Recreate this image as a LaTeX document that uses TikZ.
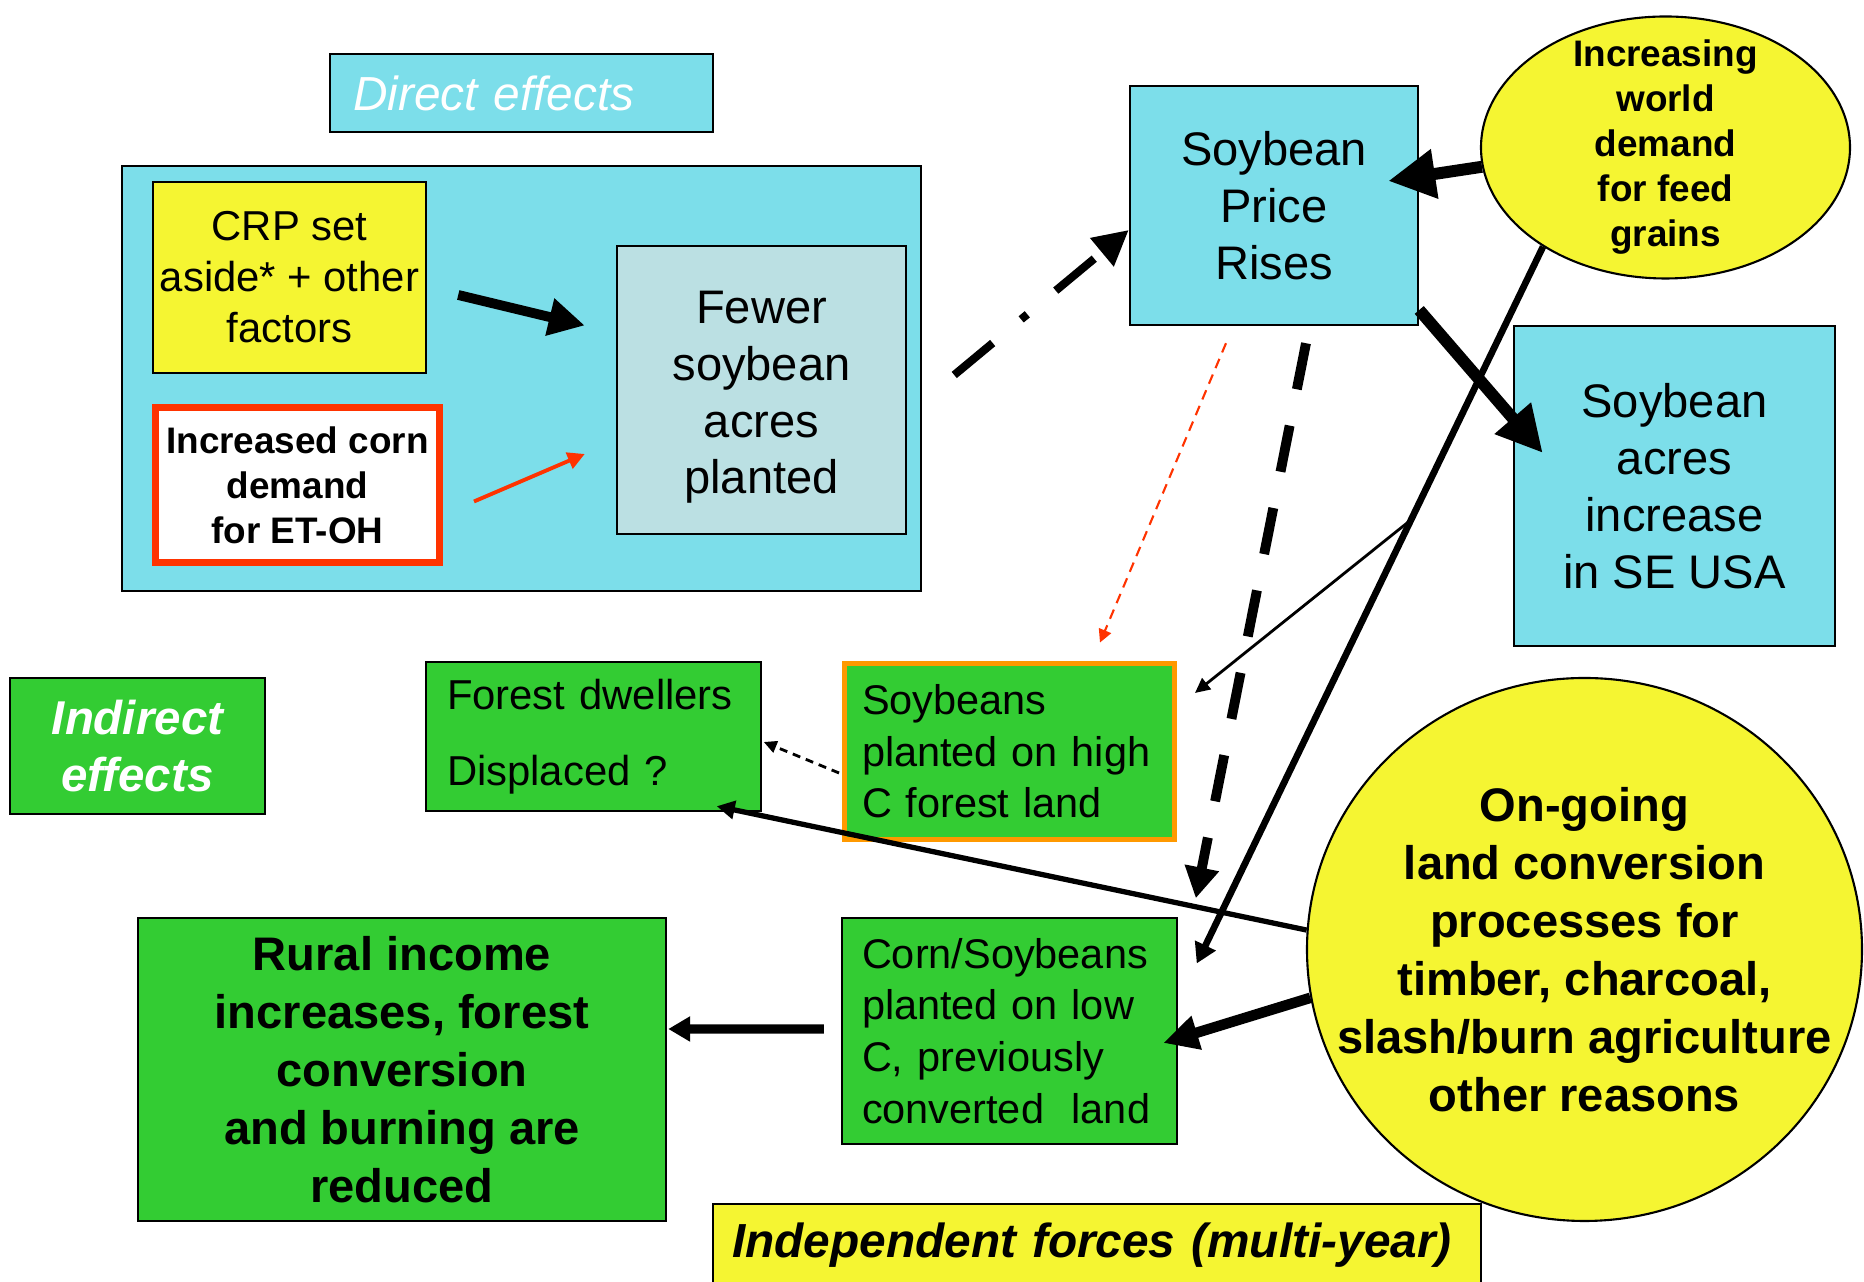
\documentclass[tikz,border=0pt]{standalone}
\usepackage{fontspec}
\setmainfont{Liberation Sans}
\usepackage{xcolor}
\usetikzlibrary{positioning,calc,arrows.meta,shapes.geometric}

\definecolor{boxcyan}{RGB}{124,222,234}
\definecolor{boxgrey}{RGB}{187,224,227}
\definecolor{boxyellow}{RGB}{245,245,50}
\definecolor{boxgreen}{RGB}{51,204,51}
\definecolor{boxorange}{RGB}{255,153,0}
\definecolor{boxred}{RGB}{255,51,0}

\begin{document}
\begin{tikzpicture}[
    box/.style={draw=black, line width=0.7pt, inner sep=0.05cm, align=center},
    bigtext/.style={font=\fontsize{13.4}{16.2}\selectfont},
    boldtext/.style={font=\fontsize{13.4}{16.5}\selectfont\bfseries},
    midtext/.style={font=\fontsize{11.9}{14.5}\selectfont},
    smalltext/.style={font=\fontsize{10.5}{12.8}\selectfont\bfseries},
    heavyline/.style={black, line width=2.8pt},
    fatline/.style={black, line width=3.4pt},
    midline/.style={black, line width=1.9pt},
    fineline/.style={black, line width=0.8pt},
    redline/.style={boxred, line width=1.1pt},
]
\useasboundingbox (0,0) rectangle (18.64,12.82);

% =====================================================================
% DIRECT EFFECTS: panel with CRP, corn demand and fewer acres
% =====================================================================
\node[box, fill=boxcyan, text=white, minimum width=3.83cm, minimum height=0.78cm,
    text width=3.37cm, inner xsep=0.23cm, align=left,
    font=\fontsize{13.6}{15}\selectfont\itshape] (direct) at (5.215,11.89) {Direct effects};

\draw[fill=boxcyan, line width=0.7pt] (1.22,6.91) rectangle (9.21,11.16);

\node[box, fill=boxyellow, minimum width=2.73cm, minimum height=1.91cm, midtext]
    (crp) at (2.895,10.045) {CRP set\\aside* + other\\factors};
\node[box, draw=boxred, line width=2pt, fill=white, minimum width=2.84cm,
    minimum height=1.55cm, smalltext] (corn) at (2.975,7.97) {Increased corn\\demand\\for ET-OH};
\node[box, fill=boxgrey, minimum width=2.89cm, minimum height=2.88cm, bigtext]
    (fewer) at (7.615,8.92) {\\[-0.1cm]Fewer\\soybean\\acres\\planted};

% =====================================================================
% Price box, world demand and SE USA
% =====================================================================
\node[box, fill=boxcyan, minimum width=2.88cm, minimum height=2.39cm, bigtext]
    (price) at (12.74,10.765) {Soybean\\Price\\Rises};
\node[box, ellipse, line width=0.6pt, fill=boxyellow, minimum width=3.69cm, minimum height=2.62cm,
    inner xsep=0pt, inner ysep=-0.3cm, smalltext] (world) at (16.655,11.345)
    {Increasing\\world\\demand\\for feed\\grains};
\node[box, fill=boxcyan, minimum width=3.21cm, minimum height=3.2cm, bigtext]
    (seusa) at (16.745,7.96) {Soybean\\acres\\increase\\in SE USA};

% =====================================================================
% INDIRECT EFFECTS
% =====================================================================
\node[box, fill=boxgreen, text=white, minimum width=2.55cm, minimum height=1.36cm,
    font=\fontsize{13.5}{16.2}\selectfont\bfseries\itshape] (indirect) at (1.375,5.36) {Indirect\\effects};
\node[box, fill=boxgreen, minimum width=3.35cm, minimum height=1.49cm, text width=2.93cm,
    inner xsep=0.21cm, align=left, midtext] (forest) at (5.935,5.455)
    {Forest dwellers\\[0.25cm]Displaced ?};
\node[box, draw=boxorange, line width=1.4pt, fill=boxgreen, minimum width=3.3cm,
    minimum height=1.76cm, text width=2.95cm, inner xsep=0.175cm, align=left,
    font=\fontsize{11.8}{14.6}\selectfont] (high) at (10.095,5.305)
    {Soybeans\\planted on high\\C forest land};
\node[box, fill=boxgreen, minimum width=3.35cm, minimum height=2.26cm, text width=2.95cm,
    inner xsep=0.2cm, align=left, font=\fontsize{11.8}{14.7}\selectfont] (low) at (10.095,2.51)
    {Corn/Soybeans\\planted on low\\C, previously\\converted\ \ land};
\node[box, fill=boxgreen, minimum width=5.28cm, minimum height=3.03cm, boldtext]
    (rural) at (4.02,2.125) {Rural income\\increases, forest\\conversion\\and burning are\\reduced};

% =====================================================================
% Independent forces
% =====================================================================
\node[box, ellipse, line width=0.6pt, fill=boxyellow, minimum width=5.55cm, minimum height=5.43cm,
    inner xsep=-0.7cm, inner ysep=-0.3cm, boldtext] (ongoing) at (15.845,3.325)
    {On-going\\land conversion\\processes for\\timber, charcoal,\\slash/burn agriculture\\other reasons};
\node[box, fill=boxyellow, minimum width=7.68cm, minimum height=0.82cm, text width=7.3cm,
    inner xsep=0.19cm, align=left, font=\fontsize{13.6}{15}\selectfont\bfseries\itshape]
    (indep) at (10.97,0.37) {Independent forces (multi-year)};

% =====================================================================
% Arrows
% =====================================================================
\draw[heavyline, -{Triangle[length=0.36cm,width=0.36cm]}]
    ($(crp.east)+(0.31,-0.175)$) -- ($(fewer.west)+(-0.31,0.645)$);
\draw[redline, -{Triangle[length=0.17cm,width=0.17cm]}]
    ($(corn.east)+(0.31,-0.165)$) -- ($(fewer.west)+(-0.31,-0.64)$);
\draw[black, line width=2.3pt, dash pattern=on 0.5cm off 0.37cm on 0.08cm off 0.37cm,
    -{Triangle[length=0.35cm,width=0.35cm]}]
    ($(fewer.east)+(0.47,0.15)$) -- ($(price.west)+(0,-0.245)$);
\draw[fatline, -{Triangle[length=0.47cm,width=0.47cm]}]
    (world.186) -- ($(price.east)+(-0.31,0.245)$);
\draw[fatline, -{Triangle[length=0.46cm,width=0.45cm]}]
    ($(price.east)+(0,-1.045)$) -- ($(seusa.west)+(0.3,0.33)$);

% price rises feeding the indirect effects
\draw[boxred, line width=0.6pt, dash pattern=on 0.1cm off 0.07cm,
    -{Triangle[length=0.13cm,width=0.13cm]}]
    ($(price.south)+(-0.48,-0.17)$) -- ($(high.north)+(0.905,0.185)$);
\draw[heavyline, dash pattern=on 0.47cm off 0.37cm, -{Triangle[length=0.31cm,width=0.33cm]}]
    ($(price.south)+(0.32,-0.17)$) -- ($(low.north east)+(0.176,0.185)$);

% world demand line with its branch
\coordinate (worldOut) at (world.219);
\coordinate (lowIn) at ($(low.east)+(0.185,0.675)$);
\draw[midline, -{Triangle[length=0.2cm,width=0.22cm]}] (worldOut) -- (lowIn);
\draw[fineline, -{Triangle[length=0.15cm,width=0.14cm]}]
    ($(worldOut)!0.381!(lowIn)$) -- ($(high.east)+(0.18,0.585)$);

\draw[fineline, dash pattern=on 0.08cm off 0.06cm, -{Triangle[length=0.13cm,width=0.12cm]}]
    ($(high.west)+(-0.03,-0.215)$) -- ($(forest.east)+(0.015,-0.055)$);
\draw[black, line width=1.5pt, -{Triangle[length=0.18cm,width=0.18cm]}]
    (ongoing.176) -- ($(forest.south east)+(-0.455,0.06)$);
\draw[black, line width=3pt, -{Triangle[length=0.35cm,width=0.33cm]}]
    (ongoing.190) -- ($(low.east)+(-0.15,-0.12)$);
\draw[black, line width=2.6pt, -{Triangle[length=0.22cm,width=0.24cm]}]
    ($(low.west)+(-0.17,0.02)$) -- ($(rural.east)+(0.01,0.405)$);

\end{tikzpicture}
\end{document}
